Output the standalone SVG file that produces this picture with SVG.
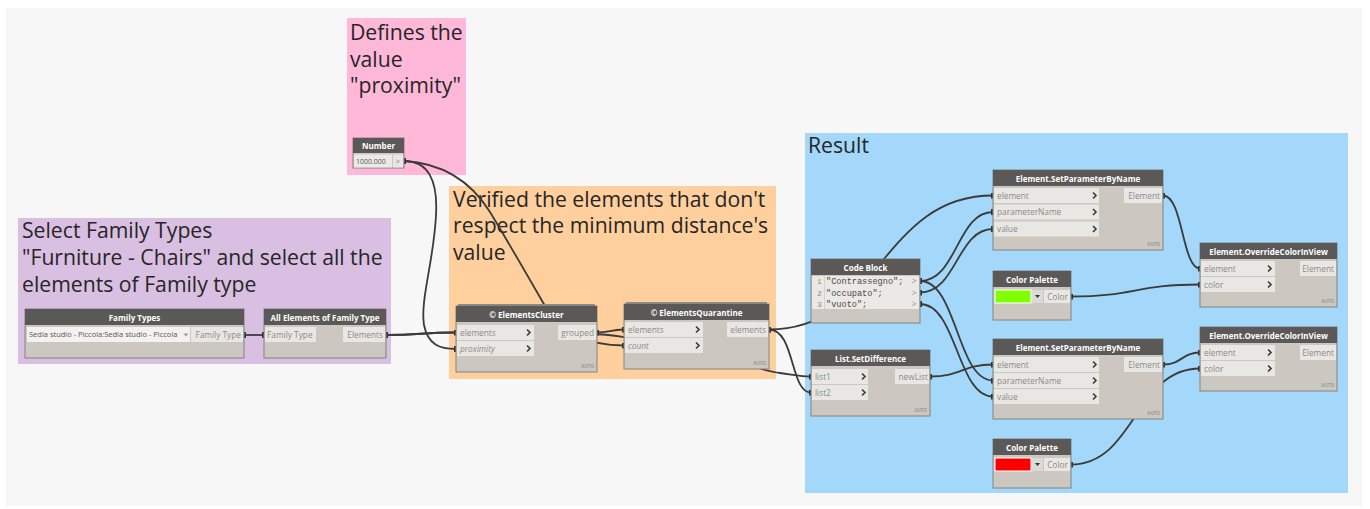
<svg xmlns="http://www.w3.org/2000/svg" width="1370" height="509" viewBox="0 0 1370 509">
<style>
.gt{font-family:"Open Sans","Noto Sans",sans-serif;font-size:21.2px;fill:#262626}
.body{fill:#ccc8c1;stroke:#85827e;stroke-width:1}
.hdr{fill:#5b5957}
.ttl{font-family:"Open Sans","Noto Sans",sans-serif;font-size:8px;font-weight:bold;fill:#ffffff;text-anchor:middle}
.pb{fill:#e9e7e3}
.pl{font-family:"Open Sans","Noto Sans",sans-serif;font-size:8.3px;fill:#8a8a8a}
.it{font-style:italic}
.end{text-anchor:end}
.chev{fill:none;stroke:#3a3a3a;stroke-width:1.6}
.auto{font-family:"Open Sans","Noto Sans",sans-serif;font-size:4.5px;font-weight:bold;fill:#9a9792;text-anchor:end}
.code{font-family:"Liberation Mono","DejaVu Sans Mono",monospace;font-size:8.6px;fill:#4a4a4a}
.ln{font-family:"Liberation Mono","DejaVu Sans Mono",monospace;font-size:8px;fill:#8a8a8a}
.gtxt{font-family:"Open Sans","Noto Sans",sans-serif;font-size:8.3px;fill:#8a8a8a}
.w{fill:none;stroke:#3b3b3b;stroke-width:1.8;marker-start:url(#pin);marker-end:url(#pin)}
.stack{fill:#8d8a86}
</style>
<defs>
<marker id="pin" markerUnits="userSpaceOnUse" markerWidth="4" markerHeight="6" viewBox="0 0 4 6" refX="2" refY="3" orient="auto"><rect x="0" y="0" width="4" height="6" fill="#333"/></marker>
</defs>
<rect x="0" y="0" width="1370" height="509" fill="#ffffff"/>
<rect x="6" y="8" width="1356" height="498" fill="#f7f7f7"/>

<g id="groups">
<rect x="347" y="18" width="119" height="157" fill="#ffb8d8"/>
<text class="gt" x="350" y="40">Defines the</text>
<text class="gt" x="350" y="66.7">value</text>
<text class="gt" x="350" y="93.4">"proximity"</text>
<rect x="18" y="218" width="373" height="146" fill="#d9bfe1"/>
<text class="gt" x="22" y="238.3">Select Family Types</text>
<text class="gt" x="22" y="265">"Furniture - Chairs" and select all the</text>
<text class="gt" x="22" y="291.7">elements of Family type</text>
<rect x="449" y="186" width="327" height="193" fill="#ffd09e"/>
<text class="gt" x="453" y="206.7">Verified the elements that don't</text>
<text class="gt" x="453" y="233.4">respect the minimum distance's</text>
<text class="gt" x="453" y="260.1">value</text>
<rect x="805" y="133" width="543" height="360" fill="#a3d8fa"/>
<text class="gt" x="808" y="153">Result</text>
</g>

<g id="connectors">
<path class="w" d="M244,335 L264,335"/>
<path class="w" d="M386,335 C421,335 421,332.5 456,332.5"/>
<path class="w" d="M386,335 C421,335 421,332.5 456,332.5 L590,334 C615,334 640,340 700,352 C740,360 760,371 780,373 C795,375 800,376.5 811,376.5"/>
<path class="w" d="M404,161 C428,161 438,180 436,215 C434,260 420,300 424,325 C428,345 440,349 456,349"/>
<path class="w" d="M404,161 C440,163 470,180 490,212 C510,245 530,280 545,306 C562,334 590,345.5 624,345.5"/>
<path class="w" d="M597,332.5 C610,332.5 610,329.5 624,329.5"/>
<path class="w" d="M769,329.5 C881,329.5 881,195.5 993,195.5"/>
<path class="w" d="M769,329.5 C795,329.5 790,392.5 811,392.5"/>
<path class="w" d="M930,376.5 C962,376.5 962,364.5 993,364.5"/>
<path class="w" d="M920,281 C957,281 957,212 993,212"/>
<path class="w" d="M920,281 C957,281 957,380.5 993,380.5"/>
<path class="w" d="M920,292.5 C957,292.5 957,229 993,229"/>
<path class="w" d="M920,304 C957,304 957,396.5 993,396.5"/>
<path class="w" d="M1163,195.5 C1183,195.5 1182,268.5 1200,268.5"/>
<path class="w" d="M1071,296.5 C1135,296.5 1135,284.5 1200,284.5"/>
<path class="w" d="M1163,364.5 C1182,364.5 1182,352.5 1200,352.5"/>
<path class="w" d="M1071,464.5 C1135,464.5 1135,368.5 1200,368.5"/>
</g>

<g id="node-family-types">
<rect class="body" x="25" y="309" width="219" height="49"/>
<rect class="hdr" x="25" y="309" width="219" height="16"/>
<text class="ttl" x="134.5" y="320.5">Family Types</text>
<rect x="27" y="327" width="163" height="15" fill="#f3f2f0"/>
<text x="29" y="337.3" style="font-family:'Open Sans','Noto Sans',sans-serif;font-size:7.5px;fill:#555">Sedia studio - Piccola:Sedia studio - Piccola</text>
<path d="M183.5,333.5 L188.5,333.5 L186,336.5 Z" fill="#999"/>
<rect class="pb" x="191" y="327" width="52" height="15"/>
<text class="pl end" x="241" y="337.5">Family Type</text>
</g>

<g id="node-all-elements">
<rect class="body" x="264" y="309" width="122" height="49"/>
<rect class="hdr" x="264" y="309" width="122" height="16"/>
<text class="ttl" x="325" y="320.5">All Elements of Family Type</text>
<rect class="pb" x="265" y="327" width="51" height="15"/>
<text class="pl" x="267" y="337.5">Family Type</text>
<rect class="pb" x="343" y="327" width="42" height="15"/>
<text class="pl end" x="383" y="337.5">Elements</text>
</g>

<g id="node-number">
<rect class="body" x="353" y="138" width="51" height="30"/>
<rect class="hdr" x="353" y="138" width="51" height="15"/>
<text class="ttl" x="378.5" y="148.5">Number</text>
<rect x="354" y="154.5" width="38" height="13" fill="#eceae7"/>
<text x="356" y="164" style="font-family:'Open Sans','Noto Sans',sans-serif;font-size:7px;fill:#555">1000.000</text>
<rect class="pb" x="393" y="154.5" width="10" height="13"/>
<text x="398" y="164" style="font-family:'Open Sans','Noto Sans',sans-serif;font-size:7.5px;fill:#777;text-anchor:middle">&gt;</text>
</g>

<g id="node-elements-cluster">
<rect class="stack" x="458" y="304" width="137" height="4"/>
<rect class="body" x="456" y="306" width="141" height="66"/>
<rect class="hdr" x="456" y="306" width="141" height="16"/>
<text class="ttl" x="526.5" y="317.5">© ElementsCluster</text>
<rect class="pb" x="457" y="325" width="77" height="15"/>
<text class="pl" x="460" y="335.5">elements</text>
<path class="chev" d="M527,329.5 L530,332.5 L527,335.5"/>
<rect class="pb" x="457" y="341" width="77" height="15"/>
<text class="pl it" x="460" y="351.5">proximity</text>
<path class="chev" d="M527,345.5 L530,348.5 L527,351.5"/>
<rect class="pb" x="558" y="325" width="38" height="15"/>
<text class="pl end" x="594" y="335.5">grouped</text>
<text class="auto" x="594" y="367.5">AUTO</text>
</g>

<g id="node-elements-quarantine">
<rect class="stack" x="626" y="302" width="141" height="4"/>
<rect class="body" x="624" y="304" width="145" height="65"/>
<rect class="hdr" x="624" y="304" width="145" height="16"/>
<text class="ttl" x="696.5" y="315.5">© ElementsQuarantine</text>
<rect class="pb" x="625" y="322" width="78" height="15"/>
<text class="pl" x="628" y="332.5">elements</text>
<path class="chev" d="M696,326.5 L699,329.5 L696,332.5"/>
<rect class="pb" x="625" y="338" width="78" height="15"/>
<text class="pl it" x="628" y="348.5">count</text>
<path class="chev" d="M696,342.5 L699,345.5 L696,348.5"/>
<rect class="pb" x="727" y="322" width="41" height="15"/>
<text class="pl end" x="766" y="332.5">elements</text>
<text class="auto" x="766" y="364.5">AUTO</text>
</g>

<g id="node-code-block">
<rect class="body" x="811" y="259" width="109" height="64"/>
<rect class="hdr" x="811" y="259" width="109" height="16"/>
<text class="ttl" x="865.5" y="270.5">Code Block</text>
<rect x="812" y="276" width="107" height="33" fill="#ebe9e6"/>
<line x1="824.5" y1="276" x2="824.5" y2="309" stroke="#cfccc7" stroke-width="0.8"/>
<text class="ln" x="817" y="284.3">1</text>
<text class="ln" x="817" y="295.6">2</text>
<text class="ln" x="817" y="306.9">3</text>
<text class="code" x="826" y="284.3">"Contrassegno";</text>
<text class="code" x="826" y="295.6">"occupato";</text>
<text class="code" x="826" y="306.9">"vuoto";</text>
<text class="gtxt" x="914" y="284.3" style="text-anchor:middle">&gt;</text>
<text class="gtxt" x="914" y="295.6" style="text-anchor:middle">&gt;</text>
<text class="gtxt" x="914" y="306.9" style="text-anchor:middle">&gt;</text>
</g>

<g id="node-set-difference">
<rect class="body" x="811" y="350" width="119" height="66"/>
<rect class="hdr" x="811" y="350" width="119" height="16"/>
<text class="ttl" x="870.5" y="361.5">List.SetDifference</text>
<rect class="pb" x="812" y="369" width="56" height="15"/>
<text class="pl" x="815" y="379.5">list1</text>
<path class="chev" d="M862,373.5 L865,376.5 L862,379.5"/>
<rect class="pb" x="812" y="385" width="56" height="15"/>
<text class="pl" x="815" y="395.5">list2</text>
<path class="chev" d="M862,389.5 L865,392.5 L862,395.5"/>
<rect class="pb" x="895" y="369" width="34" height="15"/>
<text class="pl end" x="928" y="379.5">newList</text>
<text class="auto" x="927" y="411.5">AUTO</text>
</g>

<g id="node-set-parameter-1">
<rect class="body" x="993" y="170" width="170" height="80"/>
<rect class="hdr" x="993" y="170" width="170" height="16"/>
<text class="ttl" x="1078" y="181.5">Element.SetParameterByName</text>
<rect class="pb" x="994" y="188" width="105" height="15"/>
<text class="pl" x="997" y="198.5">element</text>
<path class="chev" d="M1093,192.5 L1096,195.5 L1093,198.5"/>
<rect class="pb" x="994" y="204.5" width="105" height="15"/>
<text class="pl" x="997" y="215">parameterName</text>
<path class="chev" d="M1093,209 L1096,212 L1093,215"/>
<rect class="pb" x="994" y="221.5" width="105" height="15"/>
<text class="pl" x="997" y="232">value</text>
<path class="chev" d="M1093,226 L1096,229 L1093,232"/>
<rect class="pb" x="1124" y="188" width="38" height="15"/>
<text class="pl end" x="1160" y="198.5">Element</text>
<text class="auto" x="1160" y="246">AUTO</text>
</g>

<g id="node-color-palette-green">
<rect class="body" x="993" y="271" width="78" height="49"/>
<rect class="hdr" x="993" y="271" width="78" height="16"/>
<text class="ttl" x="1032" y="282.5">Color Palette</text>
<rect x="995" y="290" width="36" height="13" fill="#80ff00" stroke="#ffffff" stroke-width="1"/>
<rect x="1032" y="290" width="11" height="13" fill="#dcdad6"/>
<path d="M1035,295 L1040,295 L1037.5,298 Z" fill="#333"/>
<rect class="pb" x="1044" y="290" width="26" height="13"/>
<text class="pl end" x="1068" y="299.5">Color</text>
</g>

<g id="node-set-parameter-2">
<rect class="body" x="993" y="339" width="170" height="80"/>
<rect class="hdr" x="993" y="339" width="170" height="16"/>
<text class="ttl" x="1078" y="350.5">Element.SetParameterByName</text>
<rect class="pb" x="994" y="357" width="105" height="15"/>
<text class="pl" x="997" y="367.5">element</text>
<path class="chev" d="M1093,361.5 L1096,364.5 L1093,367.5"/>
<rect class="pb" x="994" y="373" width="105" height="15"/>
<text class="pl" x="997" y="383.5">parameterName</text>
<path class="chev" d="M1093,377.5 L1096,380.5 L1093,383.5"/>
<rect class="pb" x="994" y="389" width="105" height="15"/>
<text class="pl" x="997" y="399.5">value</text>
<path class="chev" d="M1093,393.5 L1096,396.5 L1093,399.5"/>
<rect class="pb" x="1124" y="357" width="38" height="15"/>
<text class="pl end" x="1160" y="367.5">Element</text>
<text class="auto" x="1160" y="415">AUTO</text>
</g>

<g id="node-color-palette-red">
<rect class="body" x="993" y="439" width="78" height="49"/>
<rect class="hdr" x="993" y="439" width="78" height="16"/>
<text class="ttl" x="1032" y="450.5">Color Palette</text>
<rect x="995" y="458" width="36" height="13" fill="#ff0000" stroke="#ffffff" stroke-width="1"/>
<rect x="1032" y="458" width="11" height="13" fill="#dcdad6"/>
<path d="M1035,463 L1040,463 L1037.5,466 Z" fill="#333"/>
<rect class="pb" x="1044" y="458" width="26" height="13"/>
<text class="pl end" x="1068" y="467.5">Color</text>
</g>

<g id="node-override-1">
<rect class="body" x="1200" y="243" width="137" height="64"/>
<rect class="hdr" x="1200" y="243" width="137" height="16"/>
<text class="ttl" x="1268.5" y="254.5">Element.OverrideColorInView</text>
<rect class="pb" x="1201" y="261" width="74" height="15"/>
<text class="pl" x="1204" y="271.5">element</text>
<path class="chev" d="M1268,265.5 L1271,268.5 L1268,271.5"/>
<rect class="pb" x="1201" y="277" width="74" height="15"/>
<text class="pl" x="1204" y="287.5">color</text>
<path class="chev" d="M1268,281.5 L1271,284.5 L1268,287.5"/>
<rect class="pb" x="1300" y="261" width="36" height="15"/>
<text class="pl end" x="1334" y="271.5">Element</text>
<text class="auto" x="1334" y="302.5">AUTO</text>
</g>

<g id="node-override-2">
<rect class="body" x="1200" y="327" width="137" height="64"/>
<rect class="hdr" x="1200" y="327" width="137" height="16"/>
<text class="ttl" x="1268.5" y="338.5">Element.OverrideColorInView</text>
<rect class="pb" x="1201" y="345" width="74" height="15"/>
<text class="pl" x="1204" y="355.5">element</text>
<path class="chev" d="M1268,349.5 L1271,352.5 L1268,355.5"/>
<rect class="pb" x="1201" y="361" width="74" height="15"/>
<text class="pl" x="1204" y="371.5">color</text>
<path class="chev" d="M1268,365.5 L1271,368.5 L1268,371.5"/>
<rect class="pb" x="1300" y="345" width="36" height="15"/>
<text class="pl end" x="1334" y="355.5">Element</text>
<text class="auto" x="1334" y="386.5">AUTO</text>
</g>
</svg>
